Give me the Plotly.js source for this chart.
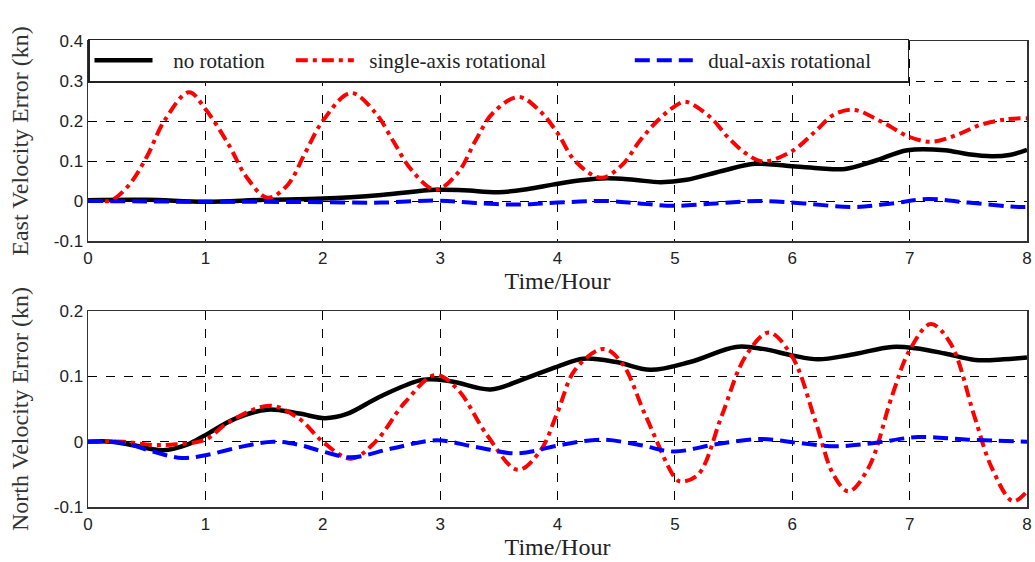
<!DOCTYPE html>
<html>
<head>
<meta charset="utf-8">
<script src="https://cdn.plot.ly/plotly-3.0.1.min.js"></script>
<style>html,body{margin:0;padding:0;background:#fff;}#chart{width:1035px;height:562px;}</style>
</head>
<body>
<div id="chart"></div>
<script>
// ---- East velocity error (top panel) ----
const eastNoRotT = [0,0.5,1.0,1.5,2.0,2.5,2.96,3.2,3.5,3.75,3.96,4.2,4.42,4.65,4.88,5.1,5.4,5.68,5.95,6.22,6.45,6.7,6.98,7.3,7.5,7.7,7.85,8.0];
const eastNoRot  = [0.002,0.003,-0.002,0.003,0.006,0.015,0.028,0.027,0.022,0.03,0.041,0.052,0.057,0.053,0.047,0.053,0.075,0.093,0.088,0.082,0.08,0.1,0.127,0.127,0.117,0.112,0.115,0.128];

const eastSingleT = [0,0.1,0.2,0.35,0.5,0.65,0.86,1.0,1.2,1.35,1.53,1.7,1.85,2.0,2.24,2.45,2.6,2.75,2.96,3.15,3.3,3.45,3.67,3.85,4.0,4.15,4.37,4.55,4.7,4.85,5.0,5.09,5.3,5.45,5.6,5.75,6.0,6.2,6.35,6.52,6.75,7.0,7.19,7.4,7.6,7.82,8.0];
const eastSingle  = [0,0,0.002,0.04,0.11,0.2,0.272,0.23,0.14,0.06,0.008,0.04,0.12,0.2,0.27,0.22,0.15,0.08,0.028,0.07,0.15,0.22,0.26,0.225,0.17,0.1,0.058,0.09,0.15,0.2,0.237,0.248,0.21,0.16,0.12,0.099,0.125,0.175,0.215,0.228,0.2,0.16,0.148,0.165,0.19,0.204,0.207];

const eastDualT = [0,0.5,1.0,1.5,2.0,2.5,2.96,3.3,3.66,4.0,4.42,4.7,4.99,5.35,5.71,6.1,6.51,6.85,7.16,7.5,7.93,8.0];
const eastDual  = [0,-0.001,-0.002,-0.002,-0.003,-0.004,0.001,-0.005,-0.009,-0.004,0.0,-0.006,-0.012,-0.006,0.0,-0.006,-0.015,-0.006,0.005,-0.004,-0.015,-0.015];

// ---- North velocity error (bottom panel) ----
const northNoRotT = [0,0.2,0.4,0.64,0.85,1.0,1.25,1.53,1.8,2.02,2.2,2.5,2.86,3.1,3.43,3.7,4.0,4.22,4.5,4.79,5.13,5.52,5.75,6.0,6.22,6.5,6.85,7.05,7.3,7.56,7.8,8.0];
const northNoRot  = [0,0,-0.006,-0.013,-0.004,0.01,0.035,0.049,0.043,0.036,0.042,0.07,0.095,0.092,0.08,0.095,0.115,0.127,0.122,0.11,0.122,0.145,0.142,0.132,0.126,0.133,0.145,0.143,0.135,0.125,0.126,0.129];

const northSingleT = [0,0.3,0.55,0.75,1.0,1.2,1.55,1.8,2.0,2.24,2.45,2.7,2.96,3.15,3.4,3.66,3.85,4.0,4.15,4.39,4.55,4.75,5.0,5.05,5.2,5.4,5.6,5.8,6.0,6.2,6.35,6.48,6.65,6.85,7.0,7.18,7.35,7.55,7.7,7.88,8.0];
const northSingle  = [0,0,-0.005,-0.004,0.003,0.03,0.055,0.035,0.0,-0.026,0.0,0.06,0.102,0.08,0.01,-0.043,-0.015,0.045,0.11,0.142,0.12,0.04,-0.055,-0.061,-0.05,0.04,0.13,0.167,0.13,0.03,-0.05,-0.076,-0.04,0.07,0.14,0.18,0.15,0.04,-0.04,-0.091,-0.076];

const northDualT = [0,0.3,0.55,0.8,1.02,1.3,1.58,1.8,2.0,2.24,2.6,2.97,3.3,3.66,4.0,4.37,4.7,4.99,5.35,5.74,6.05,6.37,6.7,7.07,7.5,8.0];
const northDual  = [0,-0.002,-0.015,-0.025,-0.02,-0.008,0.0,-0.005,-0.015,-0.024,-0.01,0.002,-0.008,-0.018,-0.006,0.003,-0.005,-0.015,-0.004,0.004,-0.002,-0.007,-0.002,0.007,0.003,0.0];

const seriesNames = ['no rotation','single-axis rotational','dual-axis rotational'];
const xTickVals = [0,1,2,3,4,5,6,7,8];
const xTickText = ['0','1','2','3','4','5','6','7','8'];
const eastTickVals = [-0.1,0,0.1,0.2,0.3,0.4];
const eastTickText = ['-0.1','0','0.1','0.2','0.3','0.4'];
const northTickVals = [-0.1,0,0.1,0.2];
const northTickText = ['-0.1','0','0.1','0.2'];

const NB = '\u00a0';
const styles = [
  {color:'#000000', width:4.5, dash:'solid'},
  {color:'#ff0000', width:4, dash:'12px,5px,4px,5px'},
  {color:'#0000ff', width:4, dash:'15px,7px'}
];
const legendText = [
  NB.repeat(3) + seriesNames[0] + NB.repeat(4),
  NB.repeat(2) + seriesNames[1] + NB.repeat(15),
  NB.repeat(2) + seriesNames[2] + NB.repeat(6)
];

function tr(x, y, i, xa, ya, showleg) {
  return {x:x, y:y, type:'scatter', mode:'lines', name: legendText[i],
    line:Object.assign({shape:'spline', smoothing:1.0}, styles[i]),
    xaxis:xa, yaxis:ya, showlegend:showleg, hoverinfo:'skip'};
}

const data = [
  tr(eastNoRotT, eastNoRot, 0, 'x', 'y', true),
  tr(eastSingleT, eastSingle, 1, 'x', 'y', true),
  tr(eastDualT, eastDual, 2, 'x', 'y', true),
  tr(northNoRotT, northNoRot, 0, 'x2', 'y2', false),
  tr(northSingleT, northSingle, 1, 'x2', 'y2', false),
  tr(northDualT, northDual, 2, 'x2', 'y2', false)
];

const serif = '"Liberation Serif", "Times New Roman", serif';
const tickFont = {family:'"Liberation Sans", Arial, sans-serif', size:17, color:'#222'};
const titleFontX = {family:serif, size:24, color:'#222'};
const titleFontY = {family:serif, size:24, color:'#333'};

function xAxis(domainAnchor) {
  return {range:[0,8], tickvals:xTickVals, ticktext:xTickText, tickfont:tickFont,
    ticklabelstandoff:1,
    showgrid:true, gridcolor:'#000', griddash:'dash', gridwidth:1,
    showline:true, mirror:true, linecolor:'#333', linewidth:1.5,
    zeroline:false, ticks:'', anchor:domainAnchor,
    title:{text:'Time/Hour', font:titleFontX, standoff:4}};
}
function yAxis(range, tv, tt, dom, anchor, title) {
  return {range:range, domain:dom, tickvals:tv, ticktext:tt, tickfont:tickFont,
    showgrid:true, gridcolor:'#000', griddash:'dash', gridwidth:1,
    showline:true, mirror:true, linecolor:'#333', linewidth:1.5,
    zeroline:false, ticks:'', anchor:anchor,
    title:{text:title, font:titleFontY, standoff:18}};
}

const layout = {
  width:1035, height:562,
  margin:{l:88, r:8, t:41, b:55},
  paper_bgcolor:'#fff', plot_bgcolor:'#fff',
  showlegend:true,
  xaxis: xAxis('y'),
  yaxis: yAxis([-0.1,0.4], eastTickVals, eastTickText, [0.5708,1], 'x', 'East Velocity Error (kn)'),
  xaxis2: xAxis('y2'),
  yaxis2: yAxis([-0.1,0.2], northTickVals, northTickText, [0,0.4206], 'x2', 'North Velocity Error (kn)'),
  legend:{orientation:'h', x:0, y:1.0053, xanchor:'left', yanchor:'top',
    bgcolor:'#fff', bordercolor:'#222', borderwidth:1.5,
    font:{family:serif, size:21, color:'#222'},
    itemwidth:58, tracegroupgap:0}
};

Plotly.newPlot('chart', data, layout, {staticPlot:true, displayModeBar:false});
</script>
</body>
</html>
